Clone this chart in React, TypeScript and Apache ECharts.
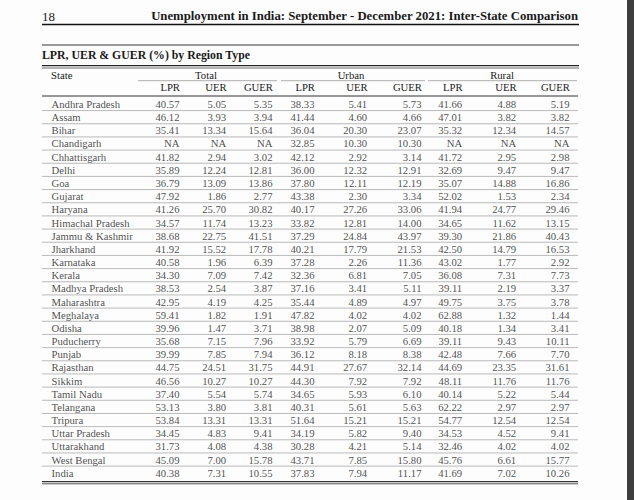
import React, { useEffect, useRef } from "react";
import * as echarts from "echarts";

const STATES = [
  "Andhra Pradesh", "Assam", "Bihar", "Chandigarh", "Chhattisgarh", "Delhi", "Goa", "Gujarat",
  "Haryana", "Himachal Pradesh", "Jammu & Kashmir", "Jharkhand", "Karnataka", "Kerala",
  "Madhya Pradesh", "Maharashtra", "Meghalaya", "Odisha", "Puducherry", "Punjab", "Rajasthan",
  "Sikkim", "Tamil Nadu", "Telangana", "Tripura", "Uttar Pradesh", "Uttarakhand", "West Bengal", "India",
];

const TOTAL_LPR = [40.57, 46.12, 35.41, null, 41.82, 35.89, 36.79, 47.92, 41.26, 34.57, 38.68, 41.92, 40.58, 34.30, 38.53, 42.95, 59.41, 39.96, 35.68, 39.99, 44.75, 46.56, 37.40, 53.13, 53.84, 34.45, 31.73, 45.09, 40.38];
const TOTAL_UER = [5.05, 3.93, 13.34, null, 2.94, 12.24, 13.09, 1.86, 25.70, 11.74, 22.75, 15.52, 1.96, 7.09, 2.54, 4.19, 1.82, 1.47, 7.15, 7.85, 24.51, 10.27, 5.54, 3.80, 13.31, 4.83, 4.08, 7.00, 7.31];
const TOTAL_GUER = [5.35, 3.94, 15.64, null, 3.02, 12.81, 13.86, 2.77, 30.82, 13.23, 41.51, 17.78, 6.39, 7.42, 3.87, 4.25, 1.91, 3.71, 7.96, 7.94, 31.75, 10.27, 5.74, 3.81, 13.31, 9.41, 4.38, 15.78, 10.55];
const URBAN_LPR = [38.33, 41.44, 36.04, 32.85, 42.12, 36.00, 37.80, 43.38, 40.17, 33.82, 37.29, 40.21, 37.28, 32.36, 37.16, 35.44, 47.82, 38.98, 33.92, 36.12, 44.91, 44.30, 34.65, 40.31, 51.64, 34.19, 30.28, 43.71, 37.83];
const URBAN_UER = [5.41, 4.60, 20.30, 10.30, 2.92, 12.32, 12.11, 2.30, 27.26, 12.81, 24.84, 17.79, 2.26, 6.81, 3.41, 4.89, 4.02, 2.07, 5.79, 8.18, 27.67, 7.92, 5.93, 5.61, 15.21, 5.82, 4.21, 7.85, 7.94];
const URBAN_GUER = [5.73, 4.66, 23.07, 10.30, 3.14, 12.91, 12.19, 3.34, 33.06, 14.00, 43.97, 21.53, 11.36, 7.05, 5.11, 4.97, 4.02, 5.09, 6.69, 8.38, 32.14, 7.92, 6.10, 5.63, 15.21, 9.40, 5.14, 15.80, 11.17];
const RURAL_LPR = [41.66, 47.01, 35.32, null, 41.72, 32.69, 35.07, 52.02, 41.94, 34.65, 39.30, 42.50, 43.02, 36.08, 39.11, 49.75, 62.88, 40.18, 39.11, 42.48, 44.69, 48.11, 40.14, 62.22, 54.77, 34.53, 32.46, 45.76, 41.69];
const RURAL_UER = [4.88, 3.82, 12.34, null, 2.95, 9.47, 14.88, 1.53, 24.77, 11.62, 21.86, 14.79, 1.77, 7.31, 2.19, 3.75, 1.32, 1.34, 9.43, 7.66, 23.35, 11.76, 5.22, 2.97, 12.54, 4.52, 4.02, 6.61, 7.02];
const RURAL_GUER = [5.19, 3.82, 14.57, null, 2.98, 9.47, 16.86, 2.34, 29.46, 13.15, 40.43, 16.53, 2.92, 7.73, 3.37, 3.78, 1.44, 3.41, 10.11, 7.70, 31.61, 11.76, 5.44, 2.97, 12.54, 9.41, 4.02, 15.77, 10.26];

const GROUPS = ["Total", "Urban", "Rural"];
const MEASURES = ["LPR", "UER", "GUER"];
const COLUMNS = [TOTAL_LPR, TOTAL_UER, TOTAL_GUER, URBAN_LPR, URBAN_UER, URBAN_GUER, RURAL_LPR, RURAL_UER, RURAL_GUER];

const TITLE = "Unemployment in India: September - December 2021: Inter-State Comparison";
const PAGE_NO = "18";
const SUBTITLE = "LPR, UER & GUER (%) by Region Type";

// layout (pixels)
const COL_RIGHT = [180, 226.7, 273, 315, 367.7, 422, 462.7, 516.7, 570];
const GROUP_CENTER = [206, 351, 502];
const GROUP_RULE = [[138, 277], [281, 425], [428, 577]];
const STATE_X = 51;
const LEFT = 42;
const RIGHT = 579;
const FONT = '"Liberation Serif", "Times New Roman", serif';
const FS = 10.7;
const INK = "#1a1a1a";

const fmt = (v: number | null) => (v === null ? "NA" : v.toFixed(2));

export default function App() {
  const ref = useRef<HTMLDivElement>(null);
  useEffect(() => {
    const chart = echarts.init(ref.current!, null, { renderer: "svg" });
    const labelBase = { fontFamily: FONT, fontSize: FS, color: INK };
    const series: any[] = COLUMNS.map((col, c) => ({
      type: "scatter",
      symbolSize: 1,
      itemStyle: { color: "rgba(0,0,0,0)" },
      silent: true,
      label: { show: true, position: "left", distance: 0, formatter: "{b}", ...labelBase },
      data: col.map((v, i) => ({ name: fmt(v), value: [COL_RIGHT[c], i] })),
    }));
    series.push({
      type: "scatter",
      symbolSize: 1,
      itemStyle: { color: "rgba(0,0,0,0)" },
      silent: true,
      label: { show: true, position: "right", distance: 0, formatter: "{b}", ...labelBase },
      data: STATES.map((s, i) => ({ name: s, value: [STATE_X, i] })),
    });

    chart.setOption({
      animation: false,
      backgroundColor: "#fdfdfd",
      grid: { left: 0, right: 0, top: 97.4, height: 381.9 },
      xAxis: { type: "value", min: 0, max: 634, show: false },
      yAxis: { type: "category", data: STATES, inverse: true, show: false },
      series,
    });

    const py = (i: number) => chart.convertToPixel({ yAxisIndex: 0 }, i) as number;
    const g: any[] = [];
    const hline = (y: number, x1: number, x2: number, w: number, color: string) =>
      g.push({ type: "line", silent: true, shape: { x1, y1: y, x2, y2: y }, style: { stroke: color, lineWidth: w } });
    const text = (t: string, x: number, y: number, align: string, size: number, weight: string) =>
      g.push({
        type: "text", silent: true, x, y,
        style: { text: t, fill: INK, fontFamily: FONT, fontSize: size, fontWeight: weight, textAlign: align, textVerticalAlign: "middle" },
      });

    text(PAGE_NO, LEFT, 16, "left", 13, "normal");
    text(TITLE, RIGHT - 1, 16, "right", 12.75, "bold");
    hline(24.5, LEFT, RIGHT, 1.4, "#111");
    hline(45, LEFT, RIGHT, 1, "#333");
    text(SUBTITLE, LEFT, 54.5, "left", 11.8, "bold");
    hline(65.6, LEFT, RIGHT, 1.3, "#222");
    hline(68, LEFT, RIGHT, 0.8, "#444");
    text("State", STATE_X, 75, "left", FS, "normal");
    GROUPS.forEach((gname, k) => {
      text(gname, GROUP_CENTER[k], 75, "center", FS, "normal");
      hline(80.7, GROUP_RULE[k][0], GROUP_RULE[k][1], 0.8, "#999");
    });
    COL_RIGHT.forEach((x, c) => text(MEASURES[c % 3], x, 87, "right", FS, "normal"));
    hline(96, LEFT, RIGHT - 1, 1, "#333");
    for (let i = 0; i < STATES.length - 1; i++) {
      const y = (py(i) + py(i + 1)) / 2;
      hline(y, LEFT, RIGHT - 1, 0.8, "#a8a8a8");
    }
    hline(481.6, LEFT, RIGHT - 1, 1.2, "#333");
    hline(483.8, LEFT, RIGHT - 1, 1, "#555");
    g.push({ type: "rect", silent: true, shape: { x: 627, y: 0, width: 7, height: 500 }, style: { fill: "#3e3e3e" } });

    chart.setOption({ graphic: g });
    return () => chart.dispose();
  }, []);
  return <div ref={ref} style={{ position: "fixed", left: 0, top: 0, width: 634, height: 500 }} />;
}
